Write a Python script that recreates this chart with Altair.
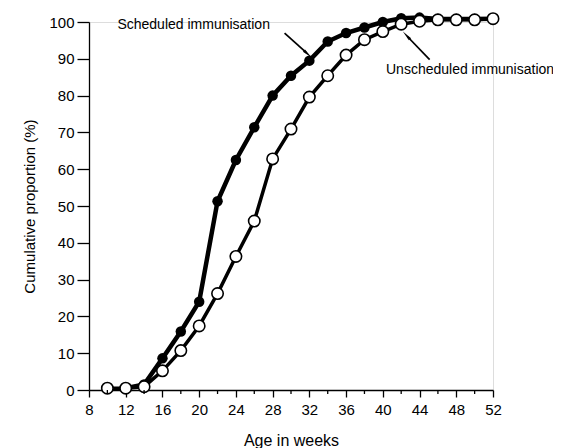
import altair as alt
import pandas as pd

weeks_sched = [12, 14, 16, 18, 20, 22, 24, 26, 28, 30, 32, 34, 36, 38, 40, 42, 44, 46, 48, 50, 52]
sched = [0.5, 1.5, 8.6, 15.9, 24.0, 51.3, 62.5, 71.4, 80.0, 85.4, 89.5, 94.7, 97.0, 98.5, 100.0,
         101.0, 101.2, 100.8, 100.8, 100.8, 100.9]

weeks_unsched = [10, 12, 14, 16, 18, 20, 22, 24, 26, 28, 30, 32, 34, 36, 38, 40, 42, 44, 46, 48, 50, 52]
unsched = [0.5, 0.5, 0.9, 5.2, 10.7, 17.4, 26.2, 36.3, 45.9, 62.8, 70.9, 79.6, 85.4, 91.0, 95.2,
           97.4, 99.4, 100.2, 100.6, 100.6, 100.6, 100.9]

x_major = [8, 12, 16, 20, 24, 28, 32, 36, 40, 44, 48, 52]
x_minor = [10, 14, 18, 22, 26, 30, 34, 38, 42, 46, 50]
y_ticks = [0, 10, 20, 30, 40, 50, 60, 70, 80, 90, 100]

labels = ["Scheduled immunisation", "Unscheduled immunisation"]
label_x = [19.4, 49.5]
label_y = [99.2, 87.0]
arrow_x = [29.3, 45.1]
arrow_y = [97.0, 89.8]
arrow_x2 = [31.7, 42.7]
arrow_y2 = [91.6, 96.0]
arrow_angle = [132, 318]

df_s = pd.DataFrame({"week": weeks_sched, "pct": sched})
df_u = pd.DataFrame({"week": weeks_unsched, "pct": unsched})
df_lab = pd.DataFrame({"text": labels, "x": label_x, "y": label_y})
df_arr = pd.DataFrame({"x": arrow_x, "y": arrow_y, "x2": arrow_x2, "y2": arrow_y2, "angle": arrow_angle})
df_minor = pd.DataFrame({"week": x_minor})

FONT = "Liberation Sans"

xscale = alt.Scale(domain=[8, 52], nice=False, zero=False)
yscale = alt.Scale(domain=[0, 100], nice=False)

xaxis = alt.Axis(values=x_major, title="Age in weeks", tickSize=7, tickColor="black",
                 domainColor="black", domainWidth=1.3, tickWidth=1.3, labelFontSize=15,
                 labelColor="black", titleFontSize=16, titleFontWeight="normal", titleColor="black",
                 labelFont=FONT, titleFont=FONT, grid=False, labelPadding=5, titlePadding=15,
                 labelOverlap=False, labelFlush=False)
yaxis = alt.Axis(values=y_ticks, title="Cumulative proportion (%)", tickSize=12, tickColor="black",
                 domainColor="black", domainWidth=1.3, tickWidth=1.3, labelFontSize=15,
                 labelColor="black", titleFontSize=15, titleFontWeight="normal", titleColor="black",
                 labelFont=FONT, titleFont=FONT, grid=False, labelPadding=3, titlePadding=11,
                 labelOverlap=False, labelFlush=False)


def X(field):
    return alt.X(field, type="quantitative", scale=xscale, axis=xaxis)


def Y(field):
    return alt.Y(field, type="quantitative", scale=yscale, axis=yaxis)


line_s = alt.Chart(df_s).mark_line(color="black", strokeWidth=4.5).encode(x=X("week"), y=Y("pct"))
pts_s = alt.Chart(df_s).mark_point(filled=True, color="black", size=110, opacity=1).encode(
    x=X("week"), y=Y("pct"))
line_u = alt.Chart(df_u).mark_line(color="black", strokeWidth=3.5).encode(x=X("week"), y=Y("pct"))
pts_u = alt.Chart(df_u).mark_point(filled=True, fill="white", stroke="black", strokeWidth=1.6,
                                    size=130, opacity=1).encode(x=X("week"), y=Y("pct"))

minor = alt.Chart(df_minor).mark_rule(color="black", strokeWidth=1.3).encode(
    x=X("week"),
    y=alt.value(368),
    y2=alt.value(372),
)

text = alt.Chart(df_lab).mark_text(font=FONT, fontSize=14, color="black", align="center",
                                    baseline="middle").encode(
    x=X("x"), y=Y("y"), text="text:N"
)
arrows = alt.Chart(df_arr).mark_rule(color="black", strokeWidth=1.7).encode(
    x=X("x"), y=Y("y"), x2="x2:Q", y2="y2:Q",
)
heads = alt.Chart(df_arr).mark_point(shape="wedge", filled=True, color="black", size=150,
                                      opacity=1).encode(
    x=X("x2"), y=Y("y2"),
    angle=alt.Angle("angle:Q", scale=None),
)

chart = alt.layer(line_s, pts_s, line_u, pts_u, minor, arrows, heads, text).properties(
    width=404, height=368,
    autosize=alt.AutoSizeParams(type="none"),
    padding={"left": 81, "top": 14, "right": 60, "bottom": 64},
).configure_view(stroke=None).configure(background="white")

chart.save("out.html", embed_options={"renderer": "svg", "actions": False})
